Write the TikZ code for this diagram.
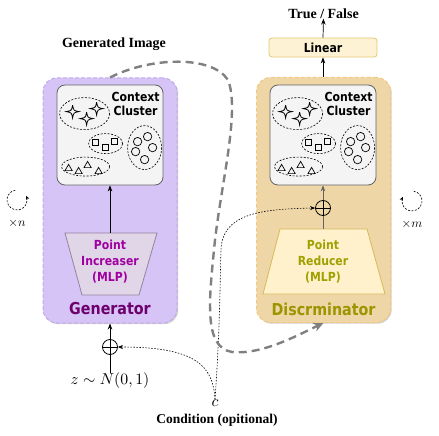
\documentclass[tikz,border=0pt]{standalone}
\usepackage[no-math]{fontspec}
\setmainfont{Liberation Serif}
\newfontfamily\tah[FakeStretch=0.87]{DejaVu Sans}
\usetikzlibrary{arrows.meta,shadows,calc}

\definecolor{genfill}{RGB}{213,196,245}
\definecolor{genedge}{RGB}{192,168,240}
\definecolor{discfill}{RGB}{238,214,167}
\definecolor{discedge}{RGB}{245,200,130}
\definecolor{cfill}{RGB}{244,244,244}
\definecolor{cedge}{RGB}{100,100,100}
\definecolor{gtrapfill}{RGB}{225,213,232}
\definecolor{gtrapedge}{RGB}{150,130,160}
\definecolor{gtxt}{RGB}{160,0,160}
\definecolor{gname}{RGB}{110,0,110}
\definecolor{dtrapfill}{RGB}{255,241,204}
\definecolor{dtrapedge}{RGB}{215,185,90}
\definecolor{dtxt}{RGB}{160,160,0}
\definecolor{dname}{RGB}{155,150,0}
\definecolor{linfill}{RGB}{253,243,212}
\definecolor{linedge}{RGB}{225,200,110}
\definecolor{flowgray}{RGB}{128,128,128}

\tikzset{
  bigbox/.style={rounded corners=14pt, minimum width=134pt, minimum height=245pt,
    line width=1pt, dash pattern=on 4pt off 2pt, inner sep=0pt,
    drop shadow={shadow xshift=1.2pt, shadow yshift=-1.2pt, opacity=0.18, fill=black}},
  clusterbox/.style={draw=cedge, fill=cfill, rounded corners=8pt, line width=0.8pt,
    minimum width=106pt, minimum height=100pt, inner sep=0pt},
  sanslbl/.style={font=\tah\bfseries\fontsize{12.5}{15}\selectfont, align=center, inner sep=0pt},
  bignamelbl/.style={font=\tah\bfseries\fontsize{16.4}{19}\selectfont, inner sep=0pt},
  serifb/.style={font=\bfseries\fontsize{14}{16}\selectfont, inner sep=0pt},
  mathlbl/.style={inner sep=0pt, scale=#1},
  smalldash/.style={dash pattern=on 2pt off 1.5pt, line width=0.6pt},
  oplusnode/.style={circle, draw, line width=0.8pt, minimum size=15pt, inner sep=0pt},
  flowarrow/.style={-{Stealth[length=6pt,width=4.5pt]}, line width=0.7pt},
  condarrow/.style={dash pattern=on 1.5pt off 1.5pt, line width=0.6pt, -{Stealth[length=5pt,width=4pt]}},
  bigdash/.style={draw=flowgray, line width=2.4pt, dash pattern=on 8pt off 5pt,
    -{Stealth[length=10pt,width=9pt,fill=flowgray]}},
  star4/.pic={\draw[line width=0.8pt] (0,-6.5) .. controls (1,-1) .. (6.5,0)
      .. controls (1,1) .. (0,6.5) .. controls (-1,1) .. (-6.5,0)
      .. controls (-1,-1) .. (0,-6.5);},
  sqmark/.pic={\draw[line width=0.7pt] (-3,-3) rectangle (3,3);},
  trimark/.pic={\draw[line width=0.7pt] (-3.6,3) -- (3.6,3) -- (0,-3.2) -- cycle;},
  circmark/.pic={\draw[line width=0.7pt] (0,0) circle[radius=4.2];},
  clusterinside/.pic={
    \draw[smalldash] (28,29) ellipse [x radius=25, y radius=16];
    \pic at (16,27) {star4};
    \pic at (30,34) {star4};
    \pic at (40,24) {star4};
    \draw[smalldash] (49,59) ellipse [x radius=17, y radius=10];
    \pic at (39,58) {sqmark};
    \pic at (49,63) {sqmark};
    \pic at (58,57) {sqmark};
    \draw[smalldash] (88,63) ellipse [x radius=17, y radius=22];
    \pic at (81,57) {circmark};
    \pic at (91,52) {circmark};
    \pic at (96,63) {circmark};
    \pic at (79,67) {circmark};
    \pic at (88,75) {circmark};
    \draw[smalldash] (29,82) ellipse [x radius=24, y radius=9.5];
    \pic at (12,83) {trimark};
    \pic at (22,86) {trimark};
    \pic at (31,80) {trimark};
    \pic at (42,86) {trimark};
    \node[sanslbl, font=\tah\bfseries\fontsize{12.5}{14}\selectfont] (-txt) at (79,19) {Context\\Cluster};
  }
}

\begin{document}
\begin{tikzpicture}[x=1pt,y=-1pt]
\useasboundingbox (0,0) rectangle (439,436);

% big boxes
\node[bigbox, fill=genfill, draw=genedge] (gen) at (110,200.5) {};
\node[bigbox, fill=discfill, draw=discedge] (disc) at (323.5,200) {};

% clusters
\node[clusterbox] (gc) at (110,135) {};
\pic (gcl) at (gc.north west) {clusterinside};
\node[clusterbox] (dc) at (323,135) {};
\pic (dcl) at (dc.north west) {clusterinside};

% trapezoids
\draw[fill=gtrapfill, draw=gtrapedge, line width=0.8pt] (65,233) -- (157,233) -- (139,295) -- (82,295) -- cycle;
\coordinate (gtrap) at (110,233);
\node[sanslbl, text=gtxt, font=\tah\bfseries\fontsize{12.5}{16}\selectfont] (gtl) at (110,261.5) {Point\\Increaser\\(MLP)};
\draw[fill=dtrapfill, draw=dtrapedge, line width=0.8pt] (280,229) -- (367,229) -- (385,294) -- (263,294) -- cycle;
\coordinate (dtrap) at (323,229);
\node[sanslbl, text=dtxt, font=\tah\bfseries\fontsize{12.5}{16}\selectfont] (dtl) at (323,261.5) {Point\\Reducer\\(MLP)};

% names
\node[bignamelbl, text=gname] (gname) at (110,309) {Generator};
\node[bignamelbl, text=dname] (dname) at (323.5,309) {Discrminator};

% linear
\node[sanslbl, draw=linedge, fill=linfill, line width=0.8pt, rounded corners=3pt,
      minimum width=108pt, minimum height=19pt] (lin) at (323,47.5) {Linear};
\node[serifb] (tf) at (323.5,13.5) {True / False};
\node[serifb] (genimg) at (114,44) {Generated Image};

% arrows inside
\draw[flowarrow] (gtrap) -- (gc.south);
\node[oplusnode, fill=discfill] (dop) at (323,208) {};
\draw[line width=0.8pt] (dop.north) -- (dop.south) (dop.west) -- (dop.east);
\draw[line width=0.7pt, draw=cedge] (dtrap) -- (dop.south);
\draw[flowarrow, draw=cedge] (dop.north) -- (dc.south);
\draw[flowarrow] (disc.north -| lin.south) -- (lin.south);
\draw[flowarrow] (lin.north) -- (tf.south);

% bottom of generator
\node[mathlbl=1.58] (z) at (110,381) {$z\sim N(0,1)$};
\node[oplusnode] (gop) at (110,347) {};
\draw[line width=0.8pt] (gop.west) -- (gop.east);
\draw[flowarrow] (z.north) -- (gen.south);

% condition
\node[mathlbl=1.58] (c) at (215,403) {$c$};
\node[serifb, font=\bfseries\fontsize{13.5}{16}\selectfont] (cond) at (217,420) {Condition (opitional)};
\draw[condarrow] (c.north) .. controls (213,365) and (195,347) .. (gop.east);
\draw[condarrow] (c.north) .. controls (220,330) and (220,280) .. (221,250)
   .. controls (222,214) and (260,209) .. (dop.west);

% big dashed flow
\draw[bigdash] (gen.north) .. controls (150,57) and (212,55) .. (228,80)
   .. controls (240,110) and (222,180) .. (215,240)
   .. controls (209,300) and (203,347) .. (232,352)
   .. controls (262,355) and (298,335) .. (disc.south);

% loops
\coordinate (lloop) at (17,200);
\coordinate (rloop) at (412,201);
\draw[smalldash, -{Stealth[length=4pt,width=3.5pt]}] (lloop) ++(-100:10) arc[start angle=-100, end angle=-385, radius=10];
\draw[smalldash, -{Stealth[length=4pt,width=3.5pt]}] (rloop) ++(-80:10) arc[start angle=-80, end angle=205, radius=10];
\node[mathlbl=1.25] (xn) at (17,223) {$\times n$};
\node[mathlbl=1.25] (xm) at (412,224) {$\times m$};
\end{tikzpicture}
\end{document}
